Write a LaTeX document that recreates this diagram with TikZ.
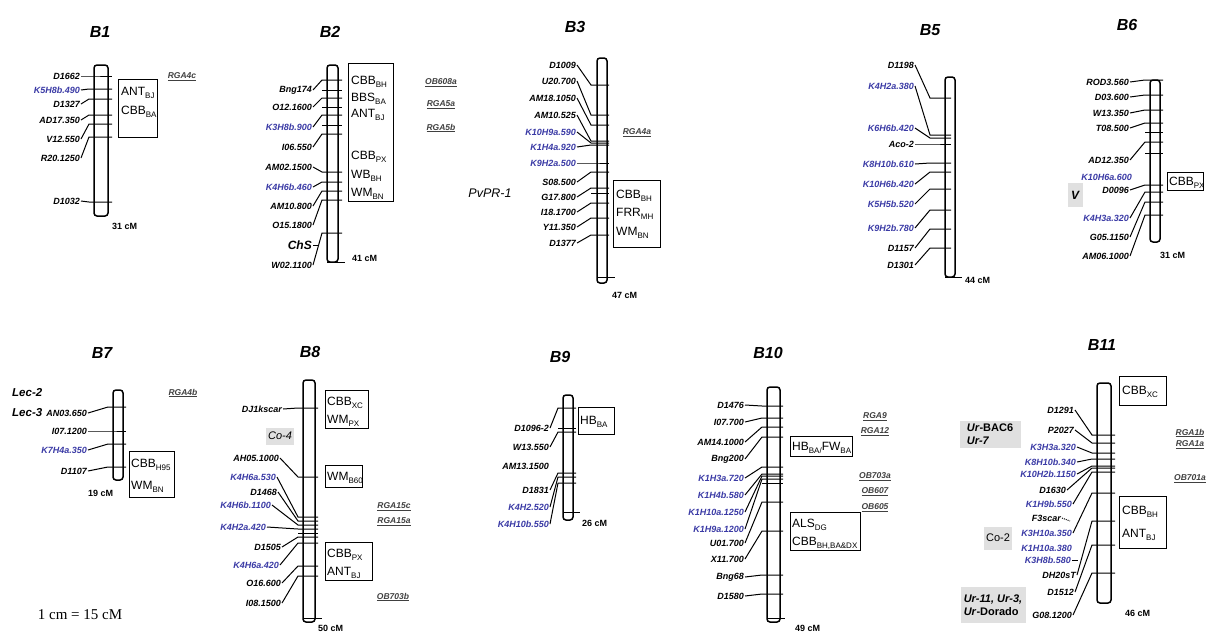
\documentclass[tikz,border=0pt]{standalone}
\usepackage{fontspec}
\setmainfont{Liberation Sans}
\newfontfamily\timesfont{Liberation Serif}
\usepackage{tikz}
\usetikzlibrary{positioning, fit}
\definecolor{cMark}{RGB}{58,58,165}
\definecolor{cGene}{RGB}{224,224,224}
\newcommand\sbs[1]{\raisebox{-3pt}{\fontsize{8}{8}\selectfont #1}}
\tikzset{
	bar/.style     ={draw=black, line width=1.5pt, rounded corners=3pt},
	mk/.style      ={anchor=east, inner sep=1pt, font=\bfseries\itshape\fontsize{9}{9}\selectfont},
	link/.style    ={line width=1pt},
	trait/.style   ={draw=black, line width=0.9pt, inner sep=0pt},
	tt/.style      ={anchor=base west, inner sep=0pt, font=\fontsize{12}{12}\selectfont},
	rga/.style     ={inner sep=0pt, font=\bfseries\itshape\fontsize{8.5}{9}\selectfont, text=black!75},
	chrname/.style ={font=\bfseries\itshape\fontsize{16}{16}\selectfont},
	len/.style     ={anchor=west, inner sep=0pt, font=\bfseries\fontsize{9}{9}\selectfont},
	% grey boxes for resistance genes
	gene/.style    ={fill=cGene, inner sep=2pt, align=left, font=\bfseries\fontsize{11}{13}\selectfont},
}

\begin{document}
\begin{tikzpicture}[x=1pt, y=-1pt]
\useasboundingbox (0,0) rectangle (1206,640);

% ---------------- B1
\node[chrname] (t1) at (100,32) {B1};
\draw[bar] (94,65) rectangle (108,216);
\foreach \lab/\ly/\ty/\cl [count=\i] in {D1662/76/76/black, K5H8b.490/90/89/cMark, D1327/104/99/black, AD17.350/120/115/black, V12.550/139/124/black, R20.1250/158/137/black, D1032/201/202/black}{
	\node[mk, text=\cl] (b1m\i) at (81,\ly) {\lab};
	\coordinate (b1t\i) at (89,\ty);
	\draw[link] (b1m\i.east) -- (b1t\i) -- ++(23,0);
}
\node[trait, fit={(118,79) (157,137)}] (b1box) {};
\node[tt] (b1q1) at (121,95) {ANT\sbs{BJ}};
\node[tt] (b1q2) at (121,114) {CBB\sbs{BA}};
\node[rga] (b1r1) at (182,77) {\underline{RGA4c}};
\node[len] (b1len) at (112,226) {31 cM};

% ---------------- B2
\node[chrname] (t2) at (330,32) {B2};
\draw[bar] (327,65) rectangle (338,262);
\foreach \lab/\ly/\ty/\cl [count=\i] in {Bng174/90/80/black, O12.1600/107/98/black, K3H8b.900/127/115/cMark, I06.550/147/134/black, AM02.1500/167/172/black, K4H6b.460/187/182/cMark, AM10.800/206/191/black, O15.1800/225/200/black, W02.1100/265/233/black}{
	\node[mk, text=\cl] (b2m\i) at (313,\ly) {\lab};
	\coordinate (b2t\i) at (322,\ty);
	\draw[link] (b2m\i.east) -- (b2t\i) -- ++(20,0);
}
\foreach \ty in {90,107,125} \draw[link] (322,\ty) -- (342,\ty);
\draw[link] (327,262) -- (345,262);
\node[mk, font=\bfseries\itshape\fontsize{12}{12}\selectfont] (chs) at (313,245) {ChS};
\draw[link] (chs.east) -- ++(6,0);
\node[trait, fit={(348,63) (393,201)}] (b2box) {};
\node[tt] (b2q1) at (351,84) {CBB\sbs{BH}};
\node[tt] (b2q2) at (351,101) {BBS\sbs{BA}};
\node[tt] (b2q3) at (351,117) {ANT\sbs{BJ}};
\node[tt] (b2q4) at (351,159) {CBB\sbs{PX}};
\node[tt] (b2q5) at (351,178) {WB\sbs{BH}};
\node[tt] (b2q6) at (351,196) {WM\sbs{BN}};
\node[rga] (b2r1) at (441,83) {\underline{OB608a}};
\node[rga] (b2r2) at (441,105) {\underline{RGA5a}};
\node[rga] (b2r3) at (441,128) {\underline{RGA5b}};
\node[len] (b2len) at (352,258) {41 cM};

% ---------------- B3
\node[chrname] (t3) at (575,27) {B3};
\draw[bar] (597,58) rectangle (607,283);
\foreach \lab/\ly/\ty/\cl [count=\i] in {D1009/65/85/black, U20.700/81/115/black, AM18.1050/98/125/black, AM10.525/115/141/black, K10H9a.590/132/143/cMark, K1H4a.920/147/145/cMark, K9H2a.500/163/163/cMark, S08.500/182/172/black, G17.800/197/188/black, I18.1700/212/203/black, Y11.350/227/218/black, D1377/243/235/black}{
	\node[mk, text=\cl] (b3m\i) at (577,\ly) {\lab};
	\coordinate (b3t\i) at (591,\ty);
	\draw[link] (b3m\i.east) -- (b3t\i) -- ++(18,0);
}
\draw[link] (591,193) -- (609,193);
\draw[link] (597,277) -- (615,277);
\node[trait, fit={(613,180) (660,247)}] (b3box) {};
\node[tt] (b3q1) at (616,198) {CBB\sbs{BH}};
\node[tt] (b3q2) at (616,216) {FRR\sbs{MH}};
\node[tt] (b3q3) at (616,235) {WM\sbs{BN}};
\node[rga] (b3r1) at (637,133) {\underline{RGA4a}};
\node[font=\itshape\fontsize{12.5}{13}\selectfont] (pvpr) at (490,193) {PvPR-1};
\node[len] (b3len) at (612,295) {47 cM};

% ---------------- B5
\node[chrname] (t5) at (930,30) {B5};
\draw[bar] (945,77) rectangle (955,277);
\foreach \lab/\ly/\ty/\cl [count=\i] in {D1198/65/98/black, K4H2a.380/86/135/cMark, K6H6b.420/128/138/cMark, Aco-2/144/144/black, K8H10b.610/164/163/cMark, K10H6b.420/184/172/cMark, K5H5b.520/204/189/cMark, K9H2b.780/228/210/cMark, D1157/248/229/black, D1301/265/248/black}{
	\node[mk, text=\cl] (b5m\i) at (915,\ly) {\lab};
	\coordinate (b5t\i) at (930,\ty);
	\draw[link] (b5m\i.east) -- (b5t\i) -- ++(21,0);
}
\draw[link] (945,277) -- (962,277);
\node[len] (b5len) at (965,280) {44 cM};

% ---------------- B6
\node[chrname] (t6) at (1127,25) {B6};
\draw[bar] (1150,80) rectangle (1160,242);
\foreach \lab/\ly/\ty/\cl [count=\i] in {ROD3.560/82/80/black, D03.600/97/95/black, W13.350/113/110/black, T08.500/128/123/black, AD12.350/160/142/black, D0096/190/185/black, K4H3a.320/218/192/cMark, G05.1150/237/202/black, AM06.1000/256/215/black}{
	\node[mk, text=\cl] (b6m\i) at (1130,\ly) {\lab};
	\coordinate (b6t\i) at (1145,\ty);
	\draw[link] (b6m\i.east) -- (b6t\i) -- ++(18,0);
}
\foreach \ty in {132,153} \draw[link] (1145,\ty) -- (1163,\ty);
\node[mk, text=cMark] (b6k) at (1133,177) {K10H6a.600};
\node[trait, fit={(1167,172) (1203,190)}] (b6box) {};
\node[tt] (b6q1) at (1169,185) {CBB\sbs{PX}};
\node[gene, font=\bfseries\itshape\fontsize{12}{12}\selectfont, minimum width=15pt, minimum height=24pt] (genv) at (1075,195) {V};
\node[len] (b6len) at (1160,255) {31 cM};

% ---------------- B7
\node[chrname] (t7) at (102,353) {B7};
\draw[bar] (113,390) rectangle (123,480);
\foreach \lab/\ly/\ty/\cl [count=\i] in {AN03.650/413/407/black, I07.1200/431/431/black, K7H4a.350/450/444/cMark, D1107/471/467/black}{
	\node[mk, text=\cl] (b7m\i) at (88,\ly) {\lab};
	\coordinate (b7t\i) at (108,\ty);
	\draw[link] (b7m\i.east) -- (b7t\i) -- ++(18,0);
}
\node[anchor=west, inner sep=0pt, font=\bfseries\itshape\fontsize{11.5}{12}\selectfont] (lec2) at (12,393) {Lec-2};
\node[anchor=west, inner sep=0pt, font=\bfseries\itshape\fontsize{11.5}{12}\selectfont] (lec3) at (12,413) {Lec-3};
\node[trait, fit={(129,451) (174,497)}] (b7box) {};
\node[tt] (b7q1) at (131,467) {CBB\sbs{H95}};
\node[tt] (b7q2) at (131,489) {WM\sbs{BN}};
\node[rga] (b7r1) at (183,393) {\underline{RGA4b}};
\node[len] (b7len) at (88,493) {19 cM};
\node[font=\timesfont\fontsize{15}{15}\selectfont] (scale) at (80,615) {1 cm = 15 cM};

% ---------------- B8
\node[chrname] (t8) at (310,352) {B8};
\draw[bar] (303,380) rectangle (315,622);
\foreach \lab/\lx/\ly/\ty/\cl [count=\i] in {DJ1kscar/283/409/408/black, AH05.1000/280/458/477/black, K4H6a.530/277/477/517/cMark, D1468/278/492/521/black, K4H6b.1100/272/505/525/cMark, K4H2a.420/267/527/529/cMark, D1505/282/547/537/black, K4H6a.420/280/565/543/cMark, O16.600/282/583/566/black, I08.1500/282/603/576/black}{
	\node[mk, text=\cl] (b8m\i) at (\lx,\ly) {\lab};
	\coordinate (b8t\i) at (298,\ty);
	\draw[link] (b8m\i.east) -- (b8t\i) -- ++(20,0);
}
\draw[link] (298,533) -- (318,533);
\draw[link] (303,618) -- (322,618);
\node[gene, font=\itshape\fontsize{11}{11}\selectfont, minimum width=24pt, minimum height=17pt] (co4) at (280,436) {Co-4};
\node[trait, fit={(325,390) (368,428)}] (b8box1) {};
\node[tt] (b8q1) at (327,405) {CBB\sbs{XC}};
\node[tt] (b8q2) at (327,423) {WM\sbs{PX}};
\node[trait, fit={(325,465) (362,487)}] (b8box2) {};
\node[tt] (b8q3) at (327,480) {WM\sbs{B60}};
\node[trait, fit={(325,542) (372,580)}] (b8box3) {};
\node[tt] (b8q4) at (327,557) {CBB\sbs{PX}};
\node[tt] (b8q5) at (327,575) {ANT\sbs{BJ}};
\node[rga] (b8r1) at (394,507) {\underline{RGA15c}};
\node[rga] (b8r2) at (394,522) {\underline{RGA15a}};
\node[rga] (b8r3) at (393,597) {\underline{OB703b}};
\node[len] (b8len) at (318,628) {50 cM};

% ---------------- B9
\node[chrname] (t9) at (560,357) {B9};
\draw[bar] (563,395) rectangle (573,520);
\foreach \lab/\ly/\ty/\cl [count=\i] in {D1096-2/428/408/black, W13.550/447/432/black, D1831/490/473/black, K4H2.520/507/477/cMark, K4H10b.550/524/483/cMark}{
	\node[mk, text=\cl] (b9m\i) at (550,\ly) {\lab};
	\coordinate (b9t\i) at (558,\ty);
	\draw[link] (b9m\i.east) -- (b9t\i) -- ++(18,0);
}
\node[mk] (b9a) at (550,466) {AM13.1500};
\draw[link] (558,428) -- (576,428);
\draw[link] (563,512) -- (580,512);
\node[trait, fit={(578,407) (614,434)}] (b9box) {};
\node[tt] (b9q1) at (580,424) {HB\sbs{BA}};
\node[len] (b9len) at (582,523) {26 cM};

% ---------------- B10
\node[chrname] (t10) at (768,353) {B10};
\draw[bar] (767,387) rectangle (780,622);
\foreach \lab/\ly/\ty/\cl [count=\i] in {D1476/405/406/black, I07.700/422/418/black, AM14.1000/442/427/black, Bng200/459/437/black, K1H3a.720/478/467/cMark, K1H4b.580/495/474/cMark, K1H10a.1250/512/476/cMark, K1H9a.1200/529/479/cMark, U01.700/543/502/black, X11.700/559/531/black, Bng68/577/575/black, D1580/596/594/black}{
	\node[mk, text=\cl] (b10m\i) at (745,\ly) {\lab};
	\coordinate (b10t\i) at (762,\ty);
	\draw[link] (b10m\i.east) -- (b10t\i) -- ++(21,0);
}
\draw[link] (762,483) -- (783,483);
\draw[link] (767,618) -- (785,618);
\node[trait, fit={(790,436) (852,456)}] (b10box1) {};
\node[tt] (b10q1) at (792,450) {HB\sbs{BA/}FW\sbs{BA}};
\node[trait, fit={(790,512) (860,550)}] (b10box2) {};
\node[tt] (b10q2) at (792,527) {ALS\sbs{DG}};
\node[tt] (b10q3) at (792,545) {CBB\sbs{BH,BA\&DX}};
\node[rga] (b10r1) at (875,417) {\underline{RGA9}};
\node[rga] (b10r2) at (875,432) {\underline{RGA12}};
\node[rga] (b10r3) at (875,477) {\underline{OB703a}};
\node[rga] (b10r4) at (875,492) {\underline{OB607}};
\node[rga] (b10r5) at (875,508) {\underline{OB605}};
\node[len] (b10len) at (795,628) {49 cM};

% ---------------- B11
\node[chrname] (t11) at (1102,345) {B11};
\draw[bar] (1097,383) rectangle (1111,603);
\foreach \lab/\lx/\ly/\ty/\cl [count=\i] in {D1291/1075/410/435/black, P2027/1075/430/443/black, K3H3a.320/1077/447/453/cMark, K8H10b.340/1077/462/459/cMark, K10H2b.1150/1077/474/466/cMark, D1630/1067/490/468/black, K1H9b.550/1073/504/472/cMark, K3H10a.350/1073/533/493/cMark, DH20sT/1077/575/521/black, D1512/1075/592/545/black, G08.1200/1073/615/573/black}{
	\node[mk, text=\cl] (b11m\i) at (\lx,\ly) {\lab};
	\coordinate (b11t\i) at (1092,\ty);
	\draw[link] (b11m\i.east) -- (b11t\i) -- ++(23,0);
}
\node[mk] (b11f) at (1062,518) {F3scar};
\draw[link, densely dotted] (b11f.east) -- ++(8,3);
\node[mk, text=cMark] (b11k1) at (1073,548) {K1H10a.380};
\node[mk, text=cMark] (b11k2) at (1072,560) {K3H8b.580};
\draw[link] (b11k2.east) -- ++(6,0);
\node[trait, fit={(1119,376) (1166,405)}] (b11box1) {};
\node[tt] (b11q1) at (1122,394) {CBB\sbs{XC}};
\node[trait, fit={(1119,496) (1166,548)}] (b11box2) {};
\node[tt] (b11q2) at (1122,514) {CBB\sbs{BH}};
\node[tt] (b11q3) at (1122,537) {ANT\sbs{BJ}};
\node[gene, minimum width=61pt, minimum height=27pt] (urbac) at (990,434) {\textit{Ur}-BAC6\\\textit{Ur-7}};
\node[gene, font=\fontsize{11}{11}\selectfont, minimum width=28pt, minimum height=23pt] (co2) at (998,538) {Co-2};
\node[gene, minimum width=65pt, minimum height=36pt] (ur11) at (993,605) {\textit{Ur-11, Ur-3,}\\\textit{Ur}-Dorado};
\node[rga] (b11r1) at (1190,433) {\underline{RGA1b}};
\node[rga] (b11r2) at (1190,445) {\underline{RGA1a}};
\node[rga] (b11r3) at (1190,479) {\underline{OB701a}};
\node[len] (b11len) at (1125,613) {46 cM};
\end{tikzpicture}
\end{document}
